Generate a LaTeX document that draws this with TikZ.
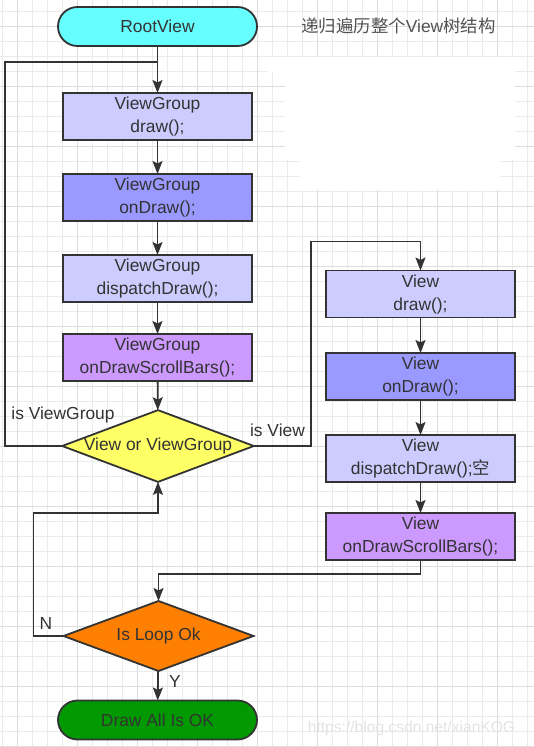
\documentclass[tikz,border=0pt]{standalone}
\usepackage{fontspec}
\setmainfont{Liberation Sans}
\newfontfamily\cjk{Noto Sans CJK SC}
\usepackage{xcolor}
\usepackage{tikz}
\usetikzlibrary{shapes.geometric, positioning, arrows.meta}
\definecolor{linec}{HTML}{333333}
\definecolor{rootc}{HTML}{66FFFF}
\definecolor{lightc}{HTML}{CCCCFF}
\definecolor{midc}{HTML}{9999FF}
\definecolor{scrollc}{HTML}{CC99FF}
\definecolor{choicec}{HTML}{FFFF66}
\definecolor{loopc}{HTML}{FF8000}
\definecolor{donec}{HTML}{009900}
\definecolor{gridc}{HTML}{EBEBEB}
\definecolor{gridd}{HTML}{DDDDDD}
\tikzset{
->, % directed connectors
>={Stealth[length=13pt, width=10pt, inset=2.5pt]}, % arrow heads
every node/.style={font=\fontsize{17.4}{23}\selectfont, text=linec},
call/.style={draw=linec, minimum width=189pt, minimum height=47pt, inner sep=0pt, outer sep=0pt, align=center}, % a method box
term/.style={draw=linec, rounded corners=19.5pt, minimum width=199pt, minimum height=39pt, inner sep=0pt, outer sep=0pt}, % start and end
test/.style={draw=linec, diamond, aspect=2.67, minimum width=190pt, minimum height=70pt, inner sep=0pt, outer sep=0pt}, % a decision
}

\begin{document}
\begin{tikzpicture}[x=1pt, y=-1pt, line width=1.8pt, draw=linec]
    \useasboundingbox (0,0) rectangle (534,747);
    % background grid
    \begin{scope}[-, line width=0.8pt]
    \foreach \gx in {2.7,17.7,...,534} \draw[gridc] (\gx,0) -- (\gx,747);
    \foreach \gy in {11.7,26.7,...,747} \draw[gridc] (0,\gy) -- (534,\gy);
    \foreach \gx in {17.7,77.7,...,534} \draw[gridd] (\gx,0) -- (\gx,747);
    \foreach \gy in {26.7,86.7,...,747} \draw[gridd] (0,\gy) -- (534,\gy);
    \fill[white] (267,57) rectangle (515,72);
    \fill[white] (285,72) rectangle (515,160);
    \fill[white] (300,160) rectangle (500,190);
    \end{scope}

    \node[term, fill=rootc] (root) at (157.5,26.5) {RootView};
    \node[text=linec!85] (title) at (398.5,26) {{\cjk 递归遍历整个}View{\cjk 树结构}};

    \node[call, fill=lightc] (vgdraw) at (157.5,116.5) {ViewGroup\\draw();};
    \node[call, fill=midc] (vgondraw) at (157.5,197.5) {ViewGroup\\onDraw();};
    \node[call, fill=lightc] (vgdispatch) at (157.5,278.5) {ViewGroup\\dispatchDraw();};
    \node[call, fill=scrollc] (vgscroll) at (157.5,357.5) {ViewGroup\\onDrawScrollBars();};
    \node[test, fill=choicec] (choice) at (158,446) {View or ViewGroup};

    \node[call, fill=lightc] (vdraw) at (420.5,294) {View\\draw();};
    \node[call, fill=midc] (vondraw) at (420.5,376.5) {View\\onDraw();};
    \node[call, fill=lightc] (vdispatch) at (420.5,458.5) {View\\dispatchDraw();{\cjk 空}};
    \node[call, fill=scrollc] (vscroll) at (420.5,536.5) {View\\onDrawScrollBars();};

    \node[test, fill=loopc] (loopok) at (158.5,636) {Is Loop Ok};
    \node[term, fill=donec] (done) at (157.5,720) {Draw All Is OK};

    \coordinate (join) at (157.5,62);
    \node (isvg) at (63,415) {is ViewGroup};
    \node (isv) at (277.5,430) {is View};
    \node (no) at (46,624) {N};
    \node (yes) at (175,682) {Y};
    \node[text=gray!22, font=\fontsize{15.6}{18}\selectfont] (mark) at (411.5,728) {https://blog.csdn.net/xianKOG};

    \draw   (root) -- (vgdraw);
    \draw   (vgdraw) -- (vgondraw);
    \draw   (vgondraw) -- (vgdispatch);
    \draw   (vgdispatch) -- (vgscroll);
    \draw   (vgscroll) -- (choice);
    \draw[-] (choice.west) -- ++(-57,0) |- (join);
    \draw   (choice.east) -- ++(57,0) |- ([yshift=29pt]vdraw.north) -- (vdraw.north);
    \draw   (vdraw) -- (vondraw);
    \draw   (vondraw) -- (vdispatch);
    \draw   (vdispatch) -- (vscroll);
    \draw   (vscroll.south) -- ++(0,14) -| (loopok.north);
    \draw   (loopok.west) -- ++(-30,0) |- ([yshift=-31pt]choice.south) -- (choice.south);
    \draw   (loopok) -- (done);
\end{tikzpicture}
\end{document}
